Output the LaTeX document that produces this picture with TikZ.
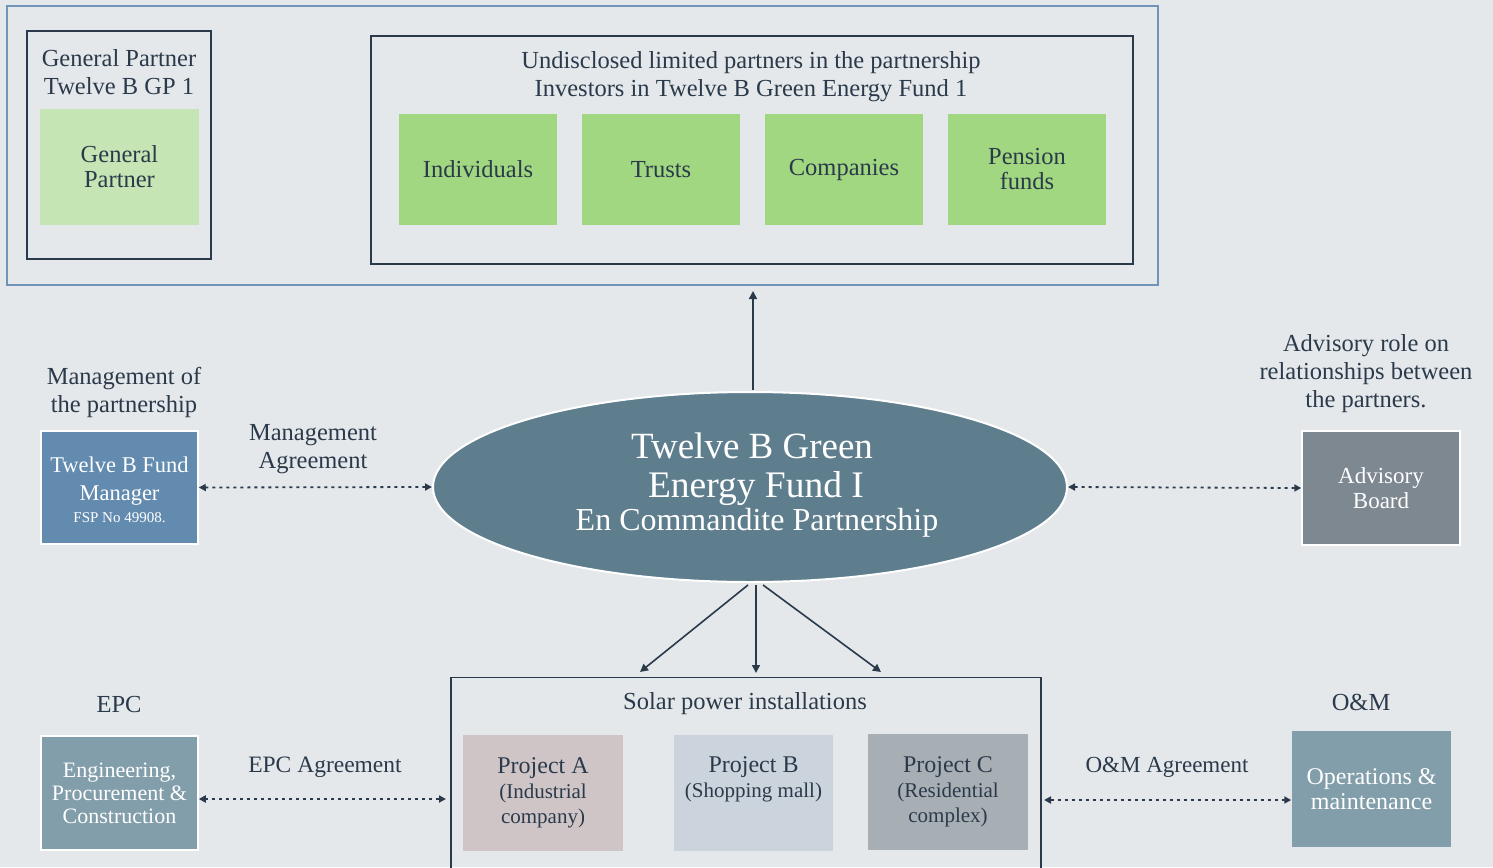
\documentclass[tikz,border=0pt]{standalone}
\usepackage{fontspec}
\setmainfont{Liberation Serif}
\usetikzlibrary{arrows.meta,shapes.geometric}
\definecolor{bg}{HTML}{E4E8EB}
\definecolor{frameblue}{HTML}{7094B8}
\definecolor{dark}{HTML}{2B3A4A}
\definecolor{lgreen}{HTML}{C6E5B4}
\definecolor{mgreen}{HTML}{A1D780}
\definecolor{fundc}{HTML}{5E7E8E}
\definecolor{fmc}{HTML}{628BAF}
\definecolor{advc}{HTML}{7E8891}
\definecolor{epcc}{HTML}{829EAB}
\definecolor{omc}{HTML}{819EAA}
\definecolor{pac}{HTML}{CFC5C6}
\definecolor{pbc}{HTML}{CBD3DD}
\definecolor{pcc}{HTML}{A7AEB4}
\newcommand{\fs}[2]{\fontsize{#1}{#2}\selectfont}
\tikzset{
  txt/.style={text=dark, align=center, inner sep=0pt, font=\fs{24.5}{28}},
  wtxt/.style={text=white, align=center, inner sep=0pt, font=\fs{23}{25}},
  frame/.style={draw=dark, line width=1.4pt, fill=none},
  fillbox/.style={inner sep=0pt, text=dark, align=center, font=\fs{24.5}{25}},
  wbox/.style={draw=white, line width=1.5pt, inner sep=0pt, text=white, align=center, font=\fs{23}{25}},
  arr/.style={draw=dark, line width=1.6pt, -{Triangle[length=8pt,width=8pt]}},
  darr/.style={draw=dark, line width=1.8pt, dash pattern=on 3pt off 4pt, {Triangle[length=7pt,width=7pt]}-{Triangle[length=7pt,width=7pt]}}
}
\begin{document}
\begin{tikzpicture}[x=1pt,y=-1pt]
\clip (0,0) rectangle (1493,867);
\fill[bg] (0,0) rectangle (1493,867);

% top frame
\node[draw=frameblue, line width=2pt, minimum width=1151pt, minimum height=279pt, inner sep=0pt] (top) at (582.5,145.5) {};

% General partner
\node[frame, minimum width=184pt, minimum height=228pt, inner sep=0pt] (gpbox) at (119,145) {};
\node[txt] (gptitle) at (119,72) {General Partner\\Twelve B GP 1};
\node[fillbox, fill=lgreen, minimum width=159pt, minimum height=116pt] (gp) at (119.5,167) {General\\Partner};

% LP box
\node[frame, minimum width=762pt, minimum height=228pt, inner sep=0pt] (lpbox) at (752,150) {};
\node[txt] (lptitle) at (751,77) {Undisclosed limited partners in the partnership\\Investors in Twelve B Green Energy Fund 1};
\node[fillbox, fill=mgreen, minimum width=158pt, minimum height=111pt] (ind) at (478,169.5) {Individuals};
\node[fillbox, fill=mgreen, minimum width=158pt, minimum height=111pt] (tru) at (661,169.5) {Trusts};
\node[fillbox, fill=mgreen, minimum width=158pt, minimum height=111pt] (com) at (844,169.5) {\raisebox{5pt}{Companies}};
\node[fillbox, fill=mgreen, minimum width=158pt, minimum height=111pt] (pen) at (1027,169.5) {Pension\\funds};

% Fund ellipse
\node[ellipse, fill=fundc, draw=white, line width=2pt, minimum width=634pt, minimum height=190pt, inner sep=0pt] (fund) at (750,487) {};
\node[text=white, inner sep=0pt, font=\fs{37}{40}] (f1) at (752,446) {Twelve B Green};
\node[text=white, inner sep=0pt, font=\fs{37.5}{40}] (f2) at (756,489) {Energy Fund I};
\node[text=white, inner sep=0pt, font=\fs{32}{34}] (f3) at (757,523) {En Commandite Partnership};

% arrow up
\coordinate (upS) at (753,390);
\coordinate (upE) at (753,291);
\draw[arr] (upS) -- (upE);

% Fund manager
\node[txt] (mgmtlbl) at (124,392) {Management of\\the partnership};
\node[wbox, fill=fmc, minimum width=157pt, minimum height=113pt] (fm) at (119.5,487.5) {};
\node[wtxt, font=\fs{22.5}{28}] (fm1) at (119.5,481) {Twelve B Fund\\Manager};
\node[text=white, inner sep=0pt, font=\fs{15}{16}] (fm2) at (119.5,518) {FSP No 49908.};
\node[txt] (malbl) at (313,449.5) {Management\\Agreement};
\draw[darr] (fm.east) -- (fund.west);

% Advisory
\node[txt] (advlbl) at (1366,374) {Advisory role on\\relationships between\\the partners.};
\node[wbox, fill=advc, minimum width=158pt, minimum height=114pt] (adv) at (1381,488) {Advisory\\Board};
\draw[darr] (fund.east) -- (adv.west);

% Solar box
\node[frame, minimum width=590pt, minimum height=220pt, inner sep=0pt, anchor=north] (solar) at (746,677) {};
\node[txt] (soltitle) at (745,704) {Solar power installations};
\node[fillbox, fill=pac, minimum width=160pt, minimum height=116pt, font=\fs{24}{25}] (pa) at (543,793) {Project A\\{\fs{21}{25}(Industrial}\\{\fs{21}{25}company)}};
\node[fillbox, fill=pbc, minimum width=159pt, minimum height=116pt, font=\fs{24}{25}] (pb) at (753.5,793) {Project B\\{\fs{21}{25}(Shopping mall)}\\\strut};
\node[fillbox, fill=pcc, minimum width=160pt, minimum height=116pt, font=\fs{24}{25}] (pc) at (948,792) {Project C\\{\fs{21}{25}(Residential}\\{\fs{21}{25}complex)}};

% three arrows
\coordinate (s1) at (748,585);
\coordinate (s2) at (756,585);
\coordinate (s3) at (763,585);
\coordinate (e1) at (640,672);
\coordinate (e2) at (756,673);
\coordinate (e3) at (881,672);
\draw[arr] (s1) -- (e1);
\draw[arr] (s2) -- (e2);
\draw[arr] (s3) -- (e3);

% EPC
\node[txt] (epclbl) at (119,704) {EPC};
\node[wbox, fill=epcc, minimum width=157pt, minimum height=114pt, font=\fs{22}{23}] (epc) at (119.5,793) {Engineering,\\Procurement \&\\Construction};
\node[txt, font=\fs{23.5}{28}] (epcalbl) at (325,767) {EPC Agreement};
\coordinate (solW) at (446,799);
\draw[darr] (epc.east |- solW) -- (solW);

% O&M
\node[txt] (omlbl) at (1361,702) {O\&M};
\node[wbox, fill=omc, draw=none, minimum width=159pt, minimum height=116pt, font=\fs{24}{25}] (om) at (1371.5,789) {Operations \&\\maintenance};
\node[txt, font=\fs{23}{28}] (omalbl) at (1167,767) {O\&M Agreement};
\coordinate (solE) at (1044,800);
\draw[darr] (solE) -- (om.west |- solE);
\end{tikzpicture}
\end{document}
